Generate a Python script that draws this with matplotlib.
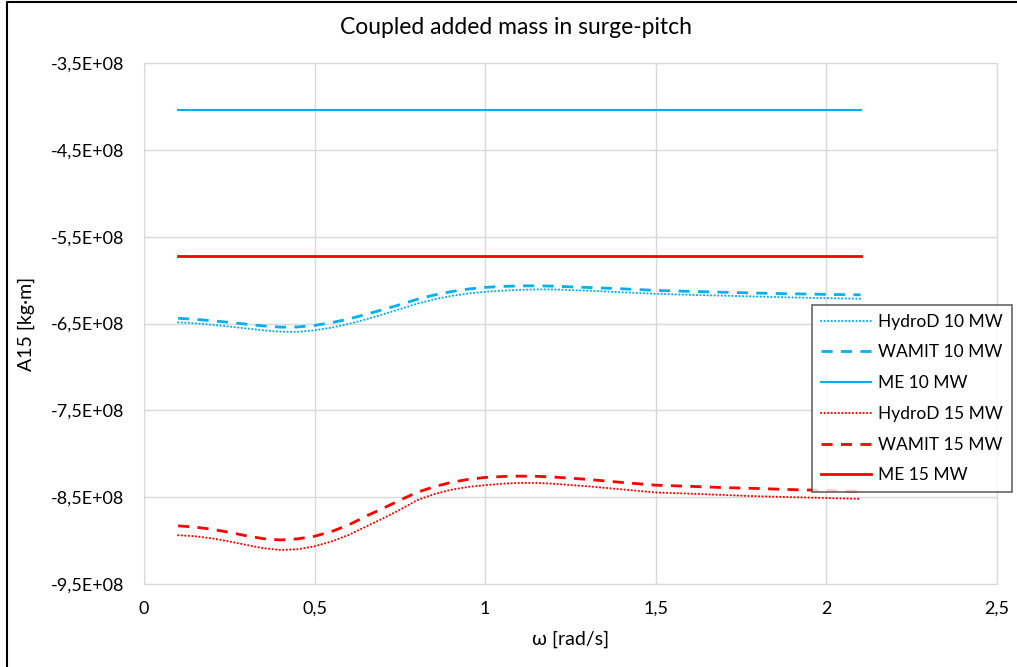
import matplotlib
matplotlib.use('Agg')
from matplotlib import pyplot as plt
from matplotlib.ticker import FuncFormatter
from matplotlib.lines import Line2D

omega = [0.10, 0.15, 0.20, 0.25, 0.30, 0.35, 0.40, 0.45, 0.50, 0.55, 0.60, 0.65,
         0.70, 0.75, 0.80, 0.85, 0.90, 0.95, 1.00, 1.05, 1.10, 1.15, 1.20,
         1.3, 1.4, 1.5, 1.6, 1.7, 1.8, 1.9, 2.0, 2.1]

# values in 1e8 kg*m
hydrod_10 = [-6.487, -6.498, -6.515, -6.535, -6.557, -6.578, -6.594, -6.597, -6.578, -6.547,
             -6.505, -6.453, -6.395, -6.334, -6.272, -6.222, -6.183, -6.155, -6.135, -6.122,
             -6.112, -6.107, -6.108,
             -6.122, -6.14, -6.158, -6.17, -6.18, -6.19, -6.20, -6.208, -6.215]
wamit_10 = [-6.440, -6.452, -6.468, -6.487, -6.508, -6.528, -6.542, -6.540, -6.522, -6.490,
            -6.448, -6.396, -6.340, -6.283, -6.222, -6.172, -6.133, -6.103, -6.084, -6.073,
            -6.067, -6.066, -6.070,
            -6.085, -6.10, -6.119, -6.13, -6.14, -6.15, -6.158, -6.165, -6.17]
me_10 = -4.04
hydrod_15 = [-8.938, -8.950, -8.975, -9.010, -9.050, -9.088, -9.108, -9.100, -9.066, -9.010,
             -8.935, -8.840, -8.745, -8.645, -8.535, -8.465, -8.415, -8.382, -8.362, -8.345,
             -8.336, -8.336, -8.345,
             -8.375, -8.41, -8.446, -8.46, -8.475, -8.49, -8.50, -8.51, -8.52]
wamit_15 = [-8.830, -8.845, -8.870, -8.905, -8.945, -8.978, -8.993, -8.980, -8.950, -8.895,
            -8.820, -8.720, -8.630, -8.535, -8.445, -8.380, -8.330, -8.295, -8.273, -8.262,
            -8.258, -8.260, -8.268,
            -8.295, -8.33, -8.362, -8.375, -8.39, -8.40, -8.413, -8.423, -8.431]
me_15 = -5.72

plt.rcParams['font.family'] = ['Lato', 'DejaVu Sans']

blue = '#00B0F0'
red = '#FF0000'
grid = '#D9D9D9'

fig = plt.figure(figsize=(10.17, 6.67), dpi=100)
ax = fig.add_axes([144/1017, 1-584/667, (997-144)/1017, (584-63)/667])

sc = 1e8
dot = (0, (0.1, 1.6))
dash = (0, (4, 3))
ax.plot(omega, [v*sc for v in hydrod_10], color=blue, lw=1.5, ls=dot, dash_capstyle='round', label='HydroD 10 MW')
ax.plot(omega, [v*sc for v in wamit_10], color=blue, lw=2, ls=dash, label='WAMIT 10 MW')
ax.plot(omega, [me_10*sc]*len(omega), color=blue, lw=1.5, label='ME 10 MW')
ax.plot(omega, [v*sc for v in hydrod_15], color=red, lw=1.5, ls=dot, dash_capstyle='round', label='HydroD 15 MW')
ax.plot(omega, [v*sc for v in wamit_15], color=red, lw=2, ls=dash, label='WAMIT 15 MW')
ax.plot(omega, [me_15*sc]*len(omega), color=red, lw=2, label='ME 15 MW')

ax.set_xlim(0, 2.5)
ax.set_ylim(-9.5e8, -3.5e8)
ax.set_xticks([0, 0.5, 1, 1.5, 2, 2.5])
ax.set_yticks([-9.5e8, -8.5e8, -7.5e8, -6.5e8, -5.5e8, -4.5e8, -3.5e8])
ax.xaxis.set_major_formatter(FuncFormatter(lambda v, p: ('%g' % v).replace('.', ',')))
ax.yaxis.set_major_formatter(FuncFormatter(lambda v, p: ('%.1E' % v).replace('.', ',')))
ax.tick_params(length=0, labelsize=13, colors='#000000')
ax.tick_params(axis='x', pad=12)
ax.tick_params(axis='y', pad=14)
ax.grid(True, color=grid, lw=1)
for s in ax.spines.values():
    s.set_color(grid)
ax.set_axisbelow(True)

fig.text(516/1017, 1-28/667, 'Coupled added mass in surge-pitch', fontsize=16.5,
         ha='center', va='center')
ax.set_xlabel('ω [rad/s]', fontsize=14, labelpad=10)
ax.set_ylabel('A15 [kg·m]', fontsize=14)
ax.yaxis.set_label_coords((35-144)/853, 0.5)

leg = ax.legend(loc='upper left', bbox_to_anchor=(812/1017, 1-305/667),
                bbox_transform=fig.transFigure, fontsize=12.5, frameon=True,
                fancybox=False, edgecolor='#404040', handlelength=2.9,
                labelspacing=0.85, borderpad=0.5, handletextpad=0.4, borderaxespad=0)
leg.get_frame().set_linewidth(1.2)

# outer chart border
fig.add_artist(Line2D([6.5/1017, 6.5/1017, 1.01], [-0.01, 1-1.5/667, 1-1.5/667],
                      transform=fig.transFigure, color='black', lw=1.5))

fig.savefig('out.png', dpi=100)
